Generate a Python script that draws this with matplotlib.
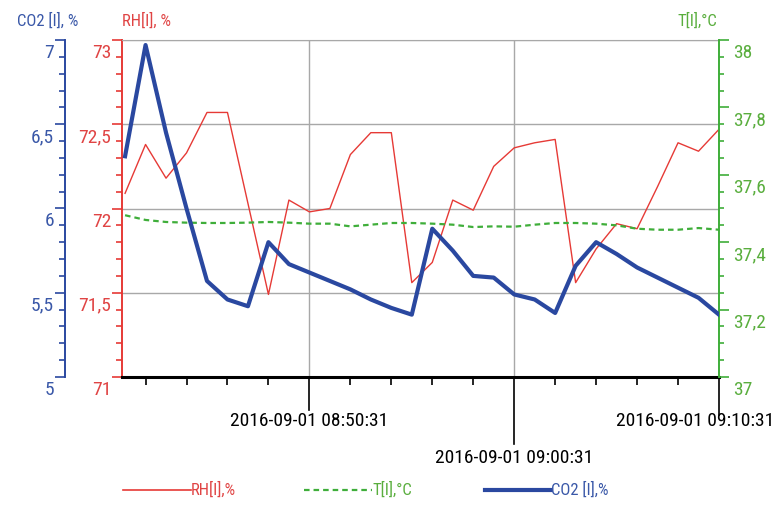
import numpy as np
import pandas as pd
import matplotlib
matplotlib.use("Agg")
import matplotlib.pyplot as plt
import matplotlib.transforms as mtransforms
from matplotlib import font_manager as fm
from matplotlib.lines import Line2D
from matplotlib.ticker import MultipleLocator, FixedLocator

# one-minute samples
day = "2016-09-01"
times = ["08:41:31", "08:42:31", "08:43:31", "08:44:31", "08:45:31", "08:46:31",
         "08:47:31", "08:48:31", "08:49:31", "08:50:31", "08:51:31", "08:52:31",
         "08:53:31", "08:54:31", "08:55:31", "08:56:31", "08:57:31", "08:58:31",
         "08:59:31", "09:00:31", "09:01:31", "09:02:31", "09:03:31", "09:04:31",
         "09:05:31", "09:06:31", "09:07:31", "09:08:31", "09:09:31", "09:10:31"]
rh = [72.09, 72.38, 72.18, 72.33, 72.57, 72.57, 72.03, 71.49, 72.05, 71.98,
      72.00, 72.32, 72.45, 72.45, 71.56, 71.68, 72.05, 71.99, 72.25, 72.36,
      72.39, 72.41, 71.56, 71.76, 71.91, 71.88, 72.13, 72.39, 72.34, 72.47]
co2 = [6.31, 6.97, 6.45, 6.00, 5.57, 5.46, 5.42, 5.80, 5.67, 5.62,
       5.57, 5.52, 5.46, 5.41, 5.37, 5.88, 5.75, 5.60, 5.59, 5.49,
       5.46, 5.38, 5.66, 5.80, 5.73, 5.65, 5.59, 5.53, 5.47, 5.37]
temp = [37.48, 37.466, 37.46, 37.458, 37.457, 37.457, 37.458, 37.46, 37.458, 37.455,
        37.455, 37.447, 37.452, 37.457, 37.457, 37.455, 37.452, 37.445, 37.447, 37.446,
        37.452, 37.457, 37.457, 37.455, 37.45, 37.44, 37.437, 37.437, 37.442, 37.437]

x_start = "08:41:22"
x_end = "09:10:31"
major_times = ["08:50:31", "09:00:31", "09:10:31"]
minor_times = ["08:42:31", "08:44:31", "08:46:31", "08:48:31", "08:52:31", "08:54:31",
               "08:56:31", "08:58:31", "09:02:31", "09:04:31", "09:06:31", "09:08:31"]

RED = "#e63a36"
BLUE = "#2a48a0"
GREEN = "#3fae3a"
RED_T = "#e04444"
BLUE_T = "#3a58a8"
GREEN_T = "#5aae3e"
GRID = "#a8a8a8"


def narrow_font():
    # look for a condensed sans; fall back to plain Liberation Sans
    for fam, stretch in [('Liberation Sans Narrow', 'normal'), ('Roboto Condensed', 'normal'),
                         ('DejaVu Sans', 'condensed')]:
        try:
            path = fm.findfont(fm.FontProperties(family=fam, stretch=stretch),
                               fallback_to_default=False)
        except ValueError:
            continue
        if 'Narrow' in path or 'Condensed' in path:
            return path
    return None


narrow = narrow_font()
if narrow:
    fm.fontManager.addfont(narrow)
    fam = fm.FontProperties(fname=narrow).get_name()
    plt.rcParams['font.family'] = [fam, 'DejaVu Sans']
    FS, FS_S = 14, 12
else:
    plt.rcParams['font.family'] = ['Liberation Sans', 'DejaVu Sans']
    FS, FS_S = 12, 10.5


def ts(s):
    return pd.Timestamp(f"{day} {s}")


t = pd.to_datetime([f"{day} {s}" for s in times])

W, H = 777, 511
fig = plt.figure(figsize=(W / 100, H / 100), dpi=100)
L, R, TOP, BOT = 122, 719, 40, 377
ax = fig.add_axes([L / W, (H - BOT) / H, (R - L) / W, (BOT - TOP) / H])
ax_t = ax.twinx()
ax_c = ax.twinx()


def px(p):
    # pixels -> points
    return p * 72 / 100


# RH on the main axes
ax.plot(t, rh, color=RED, lw=1.0, zorder=3)
ax.set_xlim(ts(x_start), ts(x_end))
ax.set_ylim(71, 73)
ax.yaxis.set_major_locator(MultipleLocator(0.5))
ax.yaxis.set_minor_locator(MultipleLocator(0.1))
ax.tick_params(axis='y', which='major', direction='out', length=px(10), width=1.2, color=RED, labelleft=False)
ax.tick_params(axis='y', which='minor', direction='out', length=px(6), width=1.2, color=RED)
ax.xaxis.set_major_locator(FixedLocator([matplotlib.dates.date2num(ts(s)) for s in major_times]))
ax.xaxis.set_minor_locator(FixedLocator([matplotlib.dates.date2num(ts(s)) for s in minor_times]))
ax.tick_params(axis='x', which='both', direction='out', length=px(8), width=1.2, color='black', labelbottom=False)
ax.tick_params(axis='x', which='major', length=0)
ax.grid(True, which='major', axis='both', color=GRID, lw=1.0)
ax.spines['left'].set_color(RED)
ax.spines['left'].set_linewidth(1.4)
ax.spines['bottom'].set_color('black')
ax.spines['bottom'].set_linewidth(2.2)
ax.spines['top'].set_color(GRID)
ax.spines['right'].set_visible(False)

# temperature, right axis
ax_t.plot(t, temp, color=GREEN, lw=1.6, ls=(0, (2.5, 1.8)), zorder=3)
ax_t.set_ylim(37, 38)
ax_t.yaxis.set_major_locator(MultipleLocator(0.2))
ax_t.yaxis.set_minor_locator(MultipleLocator(0.05))
ax_t.tick_params(axis='y', which='major', direction='out', length=px(10), width=1.2, color=GREEN, labelright=False)
ax_t.tick_params(axis='y', which='minor', direction='out', length=px(5), width=1.2, color=GREEN)
for s in ['left', 'top', 'bottom']:
    ax_t.spines[s].set_visible(False)
ax_t.spines['right'].set_color(GREEN)
ax_t.spines['right'].set_linewidth(1.4)

# CO2, outer left axis
ax_c.plot(t, co2, color=BLUE, lw=3.0, zorder=4, solid_joinstyle='round')
ax_c.set_ylim(5, 7)
ax_c.yaxis.set_ticks_position('left')
ax_c.spines['left'].set_position(('axes', (65 - L) / (R - L)))
ax_c.spines['left'].set_visible(True)
ax_c.spines['left'].set_color(BLUE)
ax_c.spines['left'].set_linewidth(1.4)
for s in ['right', 'top', 'bottom']:
    ax_c.spines[s].set_visible(False)
ax_c.yaxis.set_major_locator(MultipleLocator(0.5))
ax_c.yaxis.set_minor_locator(MultipleLocator(0.1))
ax_c.tick_params(axis='y', which='major', direction='out', length=px(10), width=1.2, color=BLUE,
                 labelleft=False, labelright=False)
ax_c.tick_params(axis='y', which='minor', direction='out', length=px(6), width=1.2, color=BLUE)

# value labels sit a little below their tick
down = mtransforms.ScaledTranslation(0, -13 / 100, fig.dpi_scale_trans)


def comma(v):
    return f"{v:g}".replace('.', ',')


tr = mtransforms.blended_transform_factory(ax.transAxes, ax.transData) + down
for v in np.arange(71, 73.01, 0.5):
    ax.text((111 - L) / (R - L), v, comma(round(v, 1)), transform=tr, ha='right', va='center',
            color=RED_T, fontsize=FS, clip_on=False)
tr = mtransforms.blended_transform_factory(ax_c.transAxes, ax_c.transData) + down
for v in np.arange(5, 7.01, 0.5):
    ax_c.text((54 - L) / (R - L), v, comma(round(v, 1)), transform=tr, ha='right', va='center',
              color=BLUE_T, fontsize=FS, clip_on=False)
tr = mtransforms.blended_transform_factory(ax_t.transAxes, ax_t.transData) + down
for v in np.arange(37, 38.01, 0.2):
    ax_t.text((733 - L) / (R - L), v, comma(round(v, 1)), transform=tr, ha='left', va='center',
              color=GREEN_T, fontsize=FS, clip_on=False)

# long major ticks on the time axis, staggered labels
xtr = mtransforms.blended_transform_factory(ax.transData, ax.transAxes)
tick_len = [33, 67, 38]
label_y = [421, 458, 421]
label_dx = [0, 0, 55]
label_ha = ['center', 'center', 'right']
for s, ln, ly, dx, ha in zip(major_times, tick_len, label_y, label_dx, label_ha):
    xv = matplotlib.dates.date2num(ts(s))
    ax.add_line(Line2D([xv, xv], [0, -ln / (BOT - TOP)], transform=xtr, color='black',
                       lw=1.2, clip_on=False))
    off = mtransforms.ScaledTranslation(dx / 100, -(ly - BOT) / 100, fig.dpi_scale_trans)
    ax.text(xv, 0, f"{day} {s}", transform=xtr + off, ha=ha, va='center',
            fontsize=FS, color='black', clip_on=False)

# axis titles
fig.text(48 / W, 1 - 21 / H, "CO2 [I], %", color=BLUE_T, fontsize=FS_S, ha='center', va='center')
fig.text(147 / W, 1 - 21 / H, "RH[I], %", color=RED_T, fontsize=FS_S, ha='center', va='center')
fig.text(717 / W, 1 - 21 / H, "T[I],°C", color=GREEN_T, fontsize=FS_S, ha='right', va='center')

# legend row
ly = 1 - 490 / H
fig.add_artist(Line2D([123 / W, 191 / W], [ly, ly], color=RED, lw=1.2))
fig.text(191 / W, ly, "RH[I],%", color=RED_T, fontsize=FS_S, va='center')
fig.add_artist(Line2D([304 / W, 372 / W], [ly, ly], color=GREEN, lw=1.6, ls=(0, (2.5, 1.8))))
fig.text(372 / W, ly, "T[I],°C", color=GREEN_T, fontsize=FS_S, va='center')
fig.add_artist(Line2D([485 / W, 551 / W], [ly, ly], color=BLUE, lw=3.0))
fig.text(551 / W, ly, "CO2 [I],%", color=BLUE_T, fontsize=FS_S, va='center')

fig.savefig("out.png", dpi=100)
